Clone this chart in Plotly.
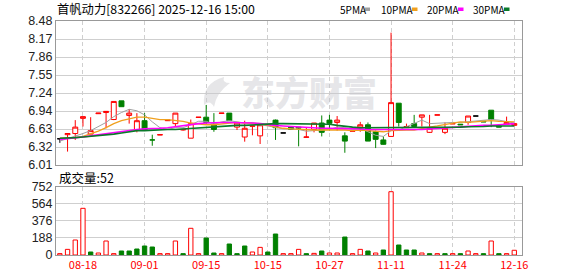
import numpy as np
import plotly.graph_objects as go

title_text = "首帆动力[832266] 2025-12-16 15:00"
vol_title = "成交量:52"
legend_names = ["5PMA", "10PMA", "20PMA", "30PMA"]
legend_colors = ["#a0a0a0", "#f0a01e", "#ff00ff", "#0a7a2a"]

date_ticks = [3, 11, 19, 27, 35, 43, 51, 59]
date_labels = ["08-18", "09-01", "09-15", "10-15", "10-27", "11-11", "11-24", "12-16"]
price_labels = ["6.01", "6.32", "6.63", "6.94", "7.24", "7.55", "7.86", "8.17", "8.48"]
price_min, price_max = 6.01, 8.48
vol_labels = ["0", "188", "376", "564", "752"]
vol_ticks = [0, 188, 376, 564, 752]

opens = [6.46, 6.53, 6.55, 6.81, 6.54, 6.89, 6.91, 6.79, 7.11, 6.86,
         6.61, 6.77, 6.44, 6.525, 6.77, 6.72, 6.61, 6.47, 6.825, 6.83,
         6.71, 6.895, 6.90, 6.66, 6.49, 6.675, 6.51, 6.70, 6.78, 6.56,
         6.66, 6.66, 6.485, 6.62, 6.73, 6.78, 6.74, 6.51, 6.59, 6.66,
         6.70, 6.58, 6.44, 6.50, 7.07, 6.65, 6.72, 6.83, 6.57, 6.865,
         6.57, 6.715, 6.71, 6.74, 6.85, 6.76, 6.95, 6.68, 6.71, 6.69]
highs = [6.47, 6.55, 6.78, 6.84, 6.83, 6.90, 6.93, 7.10, 7.11, 6.97,
         6.90, 6.90, 6.53, 6.53, 6.78, 6.90, 6.63, 6.79, 6.83, 7.04,
         6.90, 6.90, 6.90, 6.73, 6.77, 6.68, 6.70, 6.71, 6.79, 6.56,
         6.66, 6.66, 6.66, 6.73, 6.86, 6.87, 6.85, 6.57, 6.595, 6.75,
         6.74, 6.60, 6.50, 8.28, 7.07, 6.72, 6.87, 6.87, 6.87, 6.87,
         6.74, 6.72, 6.71, 6.85, 6.85, 6.76, 6.95, 6.68, 6.84, 6.73]
lows = [6.39, 6.24, 6.44, 6.67, 6.54, 6.89, 6.64, 6.78, 7.01, 6.72,
        6.57, 6.61, 6.34, 6.525, 6.77, 6.67, 6.60, 6.47, 6.825, 6.70,
        6.58, 6.895, 6.77, 6.61, 6.41, 6.52, 6.37, 6.69, 6.44, 6.56,
        6.61, 6.33, 6.485, 6.57, 6.50, 6.60, 6.60, 6.22, 6.59, 6.58,
        6.42, 6.30, 6.36, 6.50, 6.67, 6.65, 6.66, 6.67, 6.56, 6.865,
        6.54, 6.715, 6.70, 6.70, 6.85, 6.75, 6.66, 6.66, 6.70, 6.69]
closes = [6.46, 6.55, 6.66, 6.84, 6.60, 6.90, 6.93, 7.10, 7.01, 6.90,
          6.77, 6.61, 6.44, 6.53, 6.78, 6.90, 6.62, 6.72, 6.83, 6.74,
          6.62, 6.90, 6.77, 6.73, 6.64, 6.68, 6.70, 6.69, 6.65, 6.56,
          6.62, 6.645, 6.49, 6.73, 6.57, 6.725, 6.78, 6.42, 6.595, 6.70,
          6.42, 6.45, 6.365, 7.08, 6.74, 6.67, 6.67, 6.87, 6.64, 6.87,
          6.64, 6.72, 6.70, 6.85, 6.85, 6.75, 6.79, 6.66, 6.74, 6.72]
candle_kind = list("krrrrrrrgr" "rggrrrrrrg" "grgrrrrgg" "k" "ggrrggrgrr" "gggrgrgrrr" "rrgrkggg" "rr")

volumes = [15, 62, 165, 514, 33, 22, 154, 15, 44, 44,
           66, 99, 88, 15, 15, 154, 15, 294, 15, 187,
           22, 15, 121, 15, 99, 33, 84, 33, 231, 15,
           15, 62, 15, 18, 44, 22, 22, 198, 15, 62,
           44, 22, 55, 697, 110, 55, 55, 22, 15, 15,
           15, 15, 15, 44, 15, 15, 154, 15, 15, 52]
vol_kind = list("rrrrgrrrgg" "gggrrrgrrg" "grgggrrggr" "rrgrgrrgrr" "grgrgggrgr" "grgrrgrgrr")

ma5 = [6.42, 6.46, 6.50, 6.55, 6.60, 6.67, 6.74, 6.84, 6.91, 6.965,
       6.94, 6.87, 6.75, 6.65, 6.62, 6.65, 6.65, 6.70, 6.76, 6.76,
       6.71, 6.75, 6.77, 6.75, 6.73, 6.74, 6.70, 6.68, 6.65, 6.63,
       6.63, 6.62, 6.59, 6.60, 6.60, 6.62, 6.66, 6.65, 6.62, 6.64,
       6.58, 6.52, 6.50, 6.60, 6.61, 6.67, 6.72, 6.78, 6.72, 6.73,
       6.73, 6.74, 6.74, 6.75, 6.76, 6.78, 6.79, 6.78, 6.76, 6.73]
ma10 = [6.47, 6.47, 6.48, 6.50, 6.54, 6.59, 6.65, 6.72, 6.77, 6.80,
        6.83, 6.83, 6.81, 6.79, 6.79, 6.78, 6.76, 6.73, 6.71, 6.70,
        6.70, 6.71, 6.73, 6.74, 6.73, 6.73, 6.72, 6.69, 6.66, 6.64,
        6.63, 6.62, 6.61, 6.61, 6.61, 6.61, 6.62, 6.61, 6.60, 6.61,
        6.60, 6.59, 6.58, 6.60, 6.61, 6.61, 6.61, 6.64, 6.66, 6.68,
        6.70, 6.73, 6.75, 6.74, 6.75, 6.76, 6.77, 6.76, 6.76, 6.75]
ma20 = [6.45, 6.46, 6.47, 6.49, 6.51, 6.53, 6.55, 6.57, 6.59, 6.60,
        6.62, 6.63, 6.63, 6.64, 6.65, 6.67, 6.68, 6.70, 6.72, 6.73,
        6.74, 6.74, 6.74, 6.74, 6.73, 6.73, 6.72, 6.70, 6.69, 6.68,
        6.67, 6.66, 6.65, 6.65, 6.64, 6.64, 6.64, 6.63, 6.63, 6.63,
        6.62, 6.62, 6.61, 6.61, 6.61, 6.61, 6.61, 6.62, 6.63, 6.64,
        6.64, 6.65, 6.66, 6.67, 6.68, 6.69, 6.69, 6.70, 6.71, 6.72]
ma30 = [6.47, 6.47, 6.48, 6.49, 6.50, 6.51, 6.52, 6.54, 6.56, 6.58,
        6.60, 6.60, 6.61, 6.61, 6.62, 6.62, 6.63, 6.63, 6.64, 6.65,
        6.66, 6.68, 6.69, 6.69, 6.69, 6.70, 6.70, 6.71, 6.72, 6.72,
        6.72, 6.72, 6.72, 6.72, 6.72, 6.71, 6.69, 6.67, 6.66, 6.65,
        6.65, 6.65, 6.65, 6.65, 6.65, 6.655, 6.655, 6.655, 6.655, 6.655,
        6.655, 6.66, 6.66, 6.665, 6.665, 6.67, 6.68, 6.68, 6.68, 6.68]
ma_list = [ma5, ma10, ma20, ma30]
ma_widths = [1.0, 1.3, 1.6, 1.6]

RED = "#ff0000"
GREEN = "#008000"
BLACK = "#000000"

idx = list(range(len(closes)))
fig = go.Figure()

kind_style = {"r": (RED, "#ffffff"), "g": (GREEN, GREEN), "k": (BLACK, BLACK)}
for kind, (lc, fc) in kind_style.items():
    sel = [i for i in idx if candle_kind[i] == kind]
    sty = dict(line=dict(color=lc, width=1), fillcolor=fc)
    fig.add_trace(go.Candlestick(
        x=sel, open=[opens[i] for i in sel], high=[highs[i] for i in sel],
        low=[lows[i] for i in sel], close=[closes[i] for i in sel],
        increasing=sty, decreasing=sty, whiskerwidth=0,
        xaxis="x", yaxis="y", hoverinfo="skip", showlegend=False))

for ma, col, w in zip(ma_list, legend_colors, ma_widths):
    fig.add_trace(go.Scatter(x=idx, y=ma, mode="lines", line=dict(color=col, width=w),
                             xaxis="x", yaxis="y", hoverinfo="skip", showlegend=False))

vfill = ["#ffffff" if k == "r" else GREEN for k in vol_kind]
vline = [RED if k == "r" else GREEN for k in vol_kind]
fig.add_trace(go.Bar(x=idx, y=volumes, width=0.56,
                     marker=dict(color=vfill, line=dict(color=vline, width=1)),
                     xaxis="x2", yaxis="y2", hoverinfo="skip", showlegend=False))

W, H = 578, 276
ml, mr, mt, mb = 56, 56, 21, 21
pw, ph = W - ml - mr, H - mt - mb
def py(ypix):
    return (H - mb - ypix) / ph
def px(xpix):
    return (xpix - ml) / pw

grid_c = "#cfcfcf"
border_c = "#999999"
xcommon = dict(range=[-0.5, 60], tickvals=date_ticks, ticktext=date_labels,
               showgrid=True, gridcolor=grid_c, griddash="4px,3px", gridwidth=1,
               showline=True, mirror=True, linecolor=border_c, linewidth=1,
               zeroline=False, ticks="", automargin=False, fixedrange=True)
ycommon = dict(showgrid=True, gridcolor=grid_c, gridwidth=1, showline=True, mirror=True,
               linecolor=border_c, linewidth=1, zeroline=False, ticks="", automargin=False,
               tickfont=dict(family="Liberation Sans", size=12.5, color="#222222"))

fig.update_layout(
    width=W, height=H, margin=dict(l=ml, r=mr, t=mt, b=mb),
    paper_bgcolor="white", plot_bgcolor="white",
    boxgap=0.2, boxgroupgap=0.2,
    xaxis=dict(**xcommon, domain=[0, 1], anchor="y", showticklabels=False,
               rangeslider=dict(visible=False)),
    yaxis=dict(**ycommon, domain=[py(165), 1], range=[price_min, price_max],
               tickvals=list(np.linspace(price_min, price_max, len(price_labels))),
               ticktext=price_labels),
    xaxis2=dict(**xcommon, domain=[0, 1], anchor="y2", showticklabels=True,
                tickfont=dict(family="Noto Sans CJK SC", size=11, color=RED)),
    yaxis2=dict(**ycommon, domain=[0, py(186.7)], range=[0, 752],
                tickvals=vol_ticks, ticktext=vol_labels),
    font=dict(family="Noto Sans CJK SC"),
)

wm_color = "rgba(200,200,205,0.45)"
annotations = [
    dict(text=title_text, x=px(55), y=py(9.5), xref="paper", yref="paper",
         xanchor="left", yanchor="middle", showarrow=False,
         font=dict(family="Noto Sans CJK SC", size=12.3, color="#000000")),
    dict(text=vol_title, x=px(57), y=py(177), xref="paper", yref="paper",
         xanchor="left", yanchor="middle", showarrow=False,
         font=dict(family="Noto Sans CJK SC", size=12.5, color="#000000")),
    dict(text="东方财富", x=px(309), y=py(91.5), xref="paper", yref="paper",
         xanchor="center", yanchor="middle", showarrow=False,
         font=dict(family="Noto Sans CJK SC", size=34, color=wm_color, weight=900)),
]
shapes = []
# watermark logo (decorative flame-like leaf)
lx0, ly0 = 200, 75
def P(x, y):
    return f"{px(lx0 + x):.4f},{py(ly0 + y):.4f}"
logo_path = ("M " + P(24, 2) + " Q " + P(2, 8) + " " + P(4, 30) + " Q " + P(10, 24) + " " + P(14, 32)
             + " Q " + P(16, 18) + " " + P(30, 8) + " Q " + P(22, 8) + " " + P(24, 2) + " Z")
shapes.append(dict(type="path", xref="paper", yref="paper", path=logo_path,
                   fillcolor=wm_color, line=dict(width=0), layer="above"))
leg_x = [338, 379, 425, 471]
sw_x = [364.5, 412, 458, 504]
for name, col, lxx, sx in zip(legend_names, legend_colors, leg_x, sw_x):
    annotations.append(dict(text=name, x=px(lxx), y=py(9.5), xref="paper", yref="paper",
                            xanchor="left", yanchor="middle", showarrow=False,
                            font=dict(family="Noto Sans CJK SC", size=10, color="#000000")))
    shapes.append(dict(type="rect", xref="paper", yref="paper", x0=px(sx), x1=px(sx + 5.5),
                       y0=py(11), y1=py(7.5), fillcolor=col, line=dict(width=0)))
fig.update_layout(annotations=annotations, shapes=shapes)

fig.write_html("out.html")
